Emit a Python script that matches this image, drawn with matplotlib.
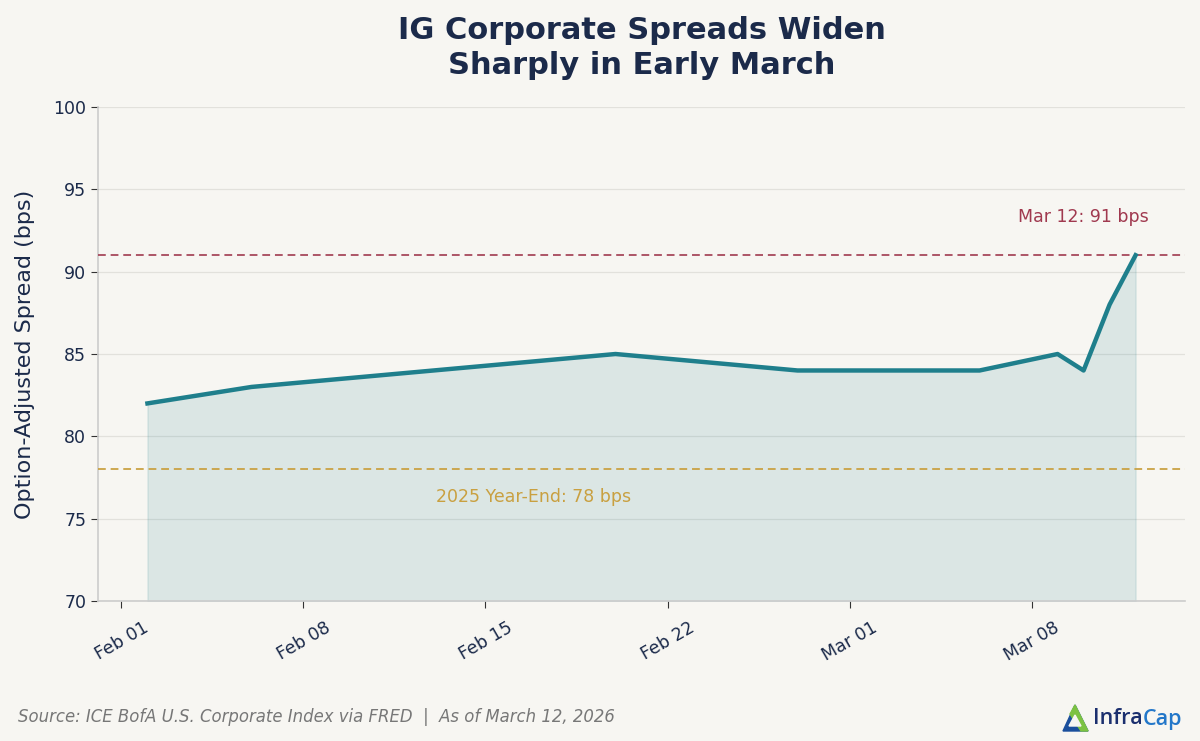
import numpy as np
import pandas as pd
import matplotlib
matplotlib.use("Agg")
import matplotlib.pyplot as plt
import matplotlib.dates as mdates
from matplotlib.patches import Polygon

# data
dates = pd.to_datetime(["2026-02-02", "2026-02-06", "2026-02-20", "2026-02-27",
                        "2026-03-06", "2026-03-09", "2026-03-10", "2026-03-11",
                        "2026-03-12"])
spread = [82, 83, 85, 84, 84, 85, 84, 88, 91]
year_end = 78
latest = 91

bg = "#f7f6f2"
navy = "#1b2a4a"
teal = "#1f7f8c"
red = "#a0394f"
gold = "#c9a040"

fig = plt.figure(figsize=(12, 7.41), dpi=100, facecolor=bg)
ax = fig.add_axes([0.0817, 0.1889, 0.9058, 0.6667], facecolor=bg)

ax.plot(dates, spread, color=teal, lw=3.2, zorder=4)
ax.fill_between(dates, spread, 70, color=teal, alpha=0.13, zorder=2)
ax.axhline(latest, color=red, lw=1.4, ls="--", alpha=0.85, dashes=(4, 2.5), zorder=3)
ax.axhline(year_end, color=gold, lw=1.4, ls="--", alpha=0.9, dashes=(4, 2.5), zorder=3)

ax.text(pd.Timestamp("2026-03-10"), latest + 2.3, "Mar 12: 91 bps", color=red,
        fontsize=12.5, ha="center", va="center")
ax.text(pd.Timestamp("2026-02-16 20:00"), year_end - 1.7, "2025 Year-End: 78 bps", color=gold,
        fontsize=12.5, ha="center", va="center")

ax.set_ylim(70, 100)
ax.set_yticks(range(70, 101, 5))
ax.xaxis.set_major_locator(mdates.WeekdayLocator(byweekday=mdates.SU))
ax.xaxis.set_major_formatter(mdates.DateFormatter("%b %d"))
plt.setp(ax.get_xticklabels(), rotation=30, ha="center")

ax.grid(axis="y", color="#e2e1dc", lw=0.9)
ax.set_axisbelow(True)
for s in ["top", "right"]:
    ax.spines[s].set_visible(False)
for s in ["left", "bottom"]:
    ax.spines[s].set_color("#cccccc")
    ax.spines[s].set_linewidth(1.2)
ax.tick_params(colors=navy, labelsize=12.5, length=5)
ax.tick_params(axis="both", color="#333333")
ax.tick_params(axis="x", pad=8)
ax.set_ylabel("Option-Adjusted Spread (bps)", color=navy, fontsize=16, labelpad=13)

fig.text(0.5346, 0.979, "IG Corporate Spreads Widen\nSharply in Early March", ha="center",
         va="top", fontsize=22, fontweight="bold", color=navy, linespacing=1.3)

fig.text(0.015, 0.032, "Source: ICE BofA U.S. Corporate Index via FRED  |  As of March 12, 2026",
         fontsize=11.9, style="italic", color="#777777", ha="left", va="center")

# InfraCap logo
def fp(x, y):
    return [x / 1200, 1 - y / 741]

tri_out = Polygon([fp(1063, 731), fp(1088, 731), fp(1075, 705)],
                  closed=True, transform=fig.transFigure, color="#1b4f9c")
tri_top = Polygon([fp(1075, 705), fp(1088, 731), fp(1081, 731), fp(1070, 714)],
                  closed=True, transform=fig.transFigure, color="#7cc242")
tri_in = Polygon([fp(1069, 726), fp(1081, 726), fp(1075, 715)],
                 closed=True, transform=fig.transFigure, color=bg)
for p in (tri_out, tri_top, tri_in):
    fig.patches.append(p)
t1 = fig.text(1093 / 1200, 1 - 719 / 741, "Infra", fontsize=15.5, color="#1b2f6e",
              ha="left", va="center", family="Open Sans", fontweight="semibold")
fig.canvas.draw()
bb = t1.get_window_extent()
fig.text(bb.x1 / 1200, 1 - 719 / 741, "Cap", fontsize=15.5, color="#2377c9",
         ha="left", va="center", family="Open Sans", fontweight="semibold")

fig.savefig("out.png", dpi=100, facecolor=bg)
